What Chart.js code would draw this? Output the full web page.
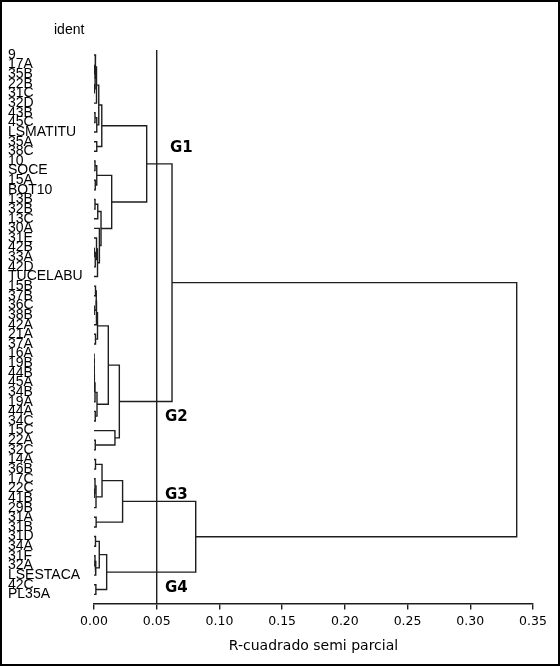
<!DOCTYPE html>
<html>
<head>
<meta charset="utf-8">
<script src="https://cdn.jsdelivr.net/npm/chart.js@4.4.1/dist/chart.umd.min.js"></script>
<style>
  html, body { margin: 0; padding: 0; background: #fff; }
  #frame { width: 560px; height: 666px; box-sizing: border-box; border: 2px solid #000; }
  #wrap { position: relative; width: 556px; height: 662px; }
</style>
</head>
<body>
<div id="frame"><div id="wrap"><canvas id="dendro"></canvas></div></div>
<script>
// leaves in the order they appear, top to bottom
const leafNames = ['9', '17A', '35B', '22B', '31C', '32D', '43B', '45C', 'LSMATITU', '35A',
  '38C', '10', 'SOCE', '15A', 'BOT10', '13B', '32B', '13C', '30A', '31E',
  '42B', '33A', '42D', 'TUCELABU', '15B', '37B', '36C', '38B', '42A', '21A',
  '37A', '16A', '19B', '44B', '45A', '34B', '19A', '44A', '34C', '15C',
  '22A', '32C', '14A', '36B', '17C', '22C', '41B', '29B', '31A', '31B',
  '31D', '34A', '31F', '32A', 'LSESTACA', '42C', 'PL35A'];

// linkage: node 57+k joins mergeLeft[k] and mergeRight[k] at mergeHeight[k]
const mergeLeft  = [1, 3, 57, 0, 60, 6, 62, 61, 9, 64,
  11, 13, 67, 15, 70, 20, 72, 19, 74, 18,
  71, 69, 66, 24, 26, 80, 82, 29, 83, 31,
  86, 87, 88, 89, 37, 90, 85, 40, 39, 93,
  79, 42, 45, 44, 100, 98, 48, 102, 50, 52,
  106, 105, 55, 108, 104, 97];
const mergeRight = [2, 4, 58, 59, 5, 7, 8, 63, 10, 65,
  12, 14, 68, 16, 17, 21, 22, 73, 23, 75,
  76, 77, 78, 25, 27, 81, 28, 30, 84, 32,
  33, 34, 35, 36, 38, 91, 92, 41, 94, 95,
  96, 43, 46, 99, 47, 101, 49, 103, 51, 53,
  54, 107, 56, 109, 110, 111];
const mergeHeight = [0.0004, 0.0005, 0.0009, 0.0012, 0.0020, 0.0008, 0.0022, 0.0038, 0.0022, 0.0062,
  0.0008, 0.0010, 0.0022, 0.0008, 0.0030, 0.0003, 0.0010, 0.0020, 0.0028, 0.0043,
  0.0056, 0.0141, 0.0420, 0.0012, 0.0003, 0.0018, 0.0020, 0.0012, 0.0028, 0.0001,
  0.0002, 0.0003, 0.0004, 0.0008, 0.0010, 0.0024, 0.0114, 0.0010, 0.0167, 0.0202,
  0.0622, 0.0012, 0.0003, 0.0008, 0.0016, 0.0064, 0.0017, 0.0228, 0.0012, 0.0008,
  0.0014, 0.0042, 0.0015, 0.0101, 0.0811, 0.3370];

const xTicks = [0, 0.05, 0.10, 0.15, 0.20, 0.25, 0.30, 0.35];
const cutOff = 0.05;

const groupNames = ['G1', 'G2', 'G3', 'G4'];
const groupX = [0.0606, 0.0566, 0.0566, 0.0566];
const groupY = [9.66, 37.6, 45.7, 55.4];

const yMin = -0.52, yMax = 56.94;

// position and height of every node
const nodePos = leafNames.map((_, i) => i);
const nodeH = leafNames.map(() => 0);
mergeLeft.forEach((a, k) => {
  const b = mergeRight[k];
  nodePos.push((nodePos[a] + nodePos[b]) / 2);
  nodeH.push(mergeHeight[k]);
});

const lineColor = '#1e1e1e';
const datasets = mergeLeft.map((a, k) => {
  const b = mergeRight[k];
  const h = mergeHeight[k];
  return {
    data: [
      { x: nodeH[a], y: nodePos[a] },
      { x: h, y: nodePos[a] },
      { x: h, y: nodePos[b] },
      { x: nodeH[b], y: nodePos[b] }
    ],
    showLine: true,
    borderColor: lineColor,
    borderWidth: 1.4,
    pointRadius: 0,
    fill: false,
    tension: 0
  };
});

// cut-off line
datasets.push({
  data: [{ x: cutOff, y: yMin }, { x: cutOff, y: yMax }],
  showLine: true,
  borderColor: lineColor,
  borderWidth: 1.4,
  pointRadius: 0,
  clip: false
});

const labelPlugin = {
  id: 'groupLabels',
  afterDatasetsDraw(chart) {
    const { ctx, scales: { x, y } } = chart;
    ctx.save();
    ctx.fillStyle = '#000';
    ctx.textBaseline = 'middle';
    ctx.textAlign = 'left';
    ctx.font = 'bold 15px "DejaVu Sans"';
    groupNames.forEach((g, i) => {
      ctx.fillText(g, x.getPixelForValue(groupX[i]), y.getPixelForValue(groupY[i]));
    });
    ctx.font = '14px "Liberation Sans"';
    ctx.fillText('ident', y.left + 46, 28);
    ctx.restore();
  }
};

new Chart(document.getElementById('dendro'), {
  type: 'scatter',
  data: { datasets },
  plugins: [labelPlugin],
  options: {
    responsive: true,
    maintainAspectRatio: false,
    animation: false,
    layout: { padding: { left: 6, right: 25, top: 48, bottom: 9.3 } },
    plugins: { legend: { display: false }, tooltip: { enabled: false } },
    scales: {
      x: {
        type: 'linear',
        min: 0,
        max: 0.35,
        afterBuildTicks: s => { s.ticks = xTicks.map(v => ({ value: v })); },
        ticks: {
          callback: v => Number(v).toFixed(2),
          font: { family: 'DejaVu Sans', size: 12.5 },
          color: '#000',
          padding: 5,
          maxRotation: 0,
          autoSkip: false
        },
        grid: { drawOnChartArea: false, drawTicks: true, tickLength: 6, color: lineColor, lineWidth: 1.4 },
        border: { display: true, color: lineColor, width: 1.4 },
        title: {
          display: true,
          text: 'R-cuadrado semi parcial',
          font: { family: 'DejaVu Sans', size: 14 },
          color: '#000',
          padding: { top: 3.5, bottom: 0 }
        }
      },
      y: {
        type: 'linear',
        reverse: true,
        min: yMin,
        max: yMax,
        afterBuildTicks: s => { s.ticks = leafNames.map((_, i) => ({ value: i })); },
        afterFit: s => { s.width = 86; },
        ticks: {
          callback: v => leafNames[v],
          font: { family: 'Liberation Sans', size: 14 },
          color: '#000',
          crossAlign: 'far',
          autoSkip: false,
          padding: 0
        },
        grid: { display: false },
        border: { display: false }
      }
    }
  }
});
</script>
</body>
</html>
